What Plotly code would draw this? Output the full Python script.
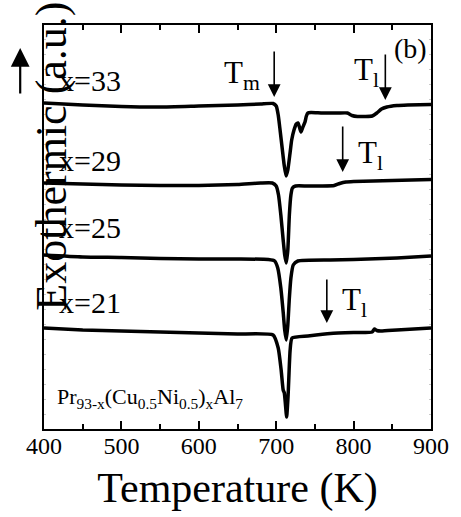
import plotly.graph_objects as go

# ---- data (heat flow in arbitrary units, curves offset vertically) ----
t33 = [400, 450, 500, 550, 600, 650, 680, 696, 700, 702.6, 705, 708, 710.3, 712.8, 715, 717.9, 720, 723, 726,
       728.2, 730, 732, 734, 737.2, 739, 741, 745, 760, 780, 792, 798, 805, 815, 824, 830, 836, 843, 856, 870, 900]
y33 = [326, 324, 322.5, 322, 323, 324, 325, 325.5, 323, 314, 299, 279, 264, 253, 259, 276, 289, 299, 305,
       306, 302, 297, 301, 307, 313, 316, 316.5, 316, 316, 316, 313.5, 312.5, 312.5, 313, 316, 320, 322, 323.5, 324, 324.5]

t29 = [400, 450, 500, 550, 600, 650, 680, 695, 700, 703, 706, 709, 711, 713, 715, 717, 719, 721, 725, 740,
       760, 775, 782, 790, 800, 850, 900]
y29 = [246, 245, 244, 243.5, 243.5, 244.5, 246, 246, 243, 234, 214, 189, 174, 166, 179, 214, 234, 241, 243, 243,
       243, 243.5, 245.5, 247, 247.5, 248.5, 249.5]

t25 = [400, 450, 500, 550, 600, 650, 690, 698, 702, 706, 709, 711, 713, 715, 717, 719, 722, 728, 770, 800, 856, 900]
y25 = [174, 172, 171.5, 170.5, 170, 170, 169.5, 168, 161, 141, 117, 99, 89, 104, 131, 151, 164, 168, 169, 169.5, 171, 173]

t21 = [400, 450, 500, 550, 600, 650, 696, 702.6, 706.4, 709, 710.5, 712, 713.5, 715.4, 718, 720.5, 741, 770,
       800, 824, 827, 830, 835, 856, 900]
y21 = [101, 99, 98, 97, 96, 95, 94, 81, 59, 39, 36, 24, 12, 34, 79, 91, 93, 95.5,
       96.5, 97, 100, 98.5, 98, 99, 101]

series_labels = ["x=33", "x=29", "x=25", "x=21"]
label_y = [349, 269, 202, 127]

x_ticks = [400, 500, 600, 700, 800, 900]

# arrows: (temperature, head y, tail y, label, label x, label y, anchor)
arrow_T = [697.4, 841, 785.9, 765.4]
arrow_head = [332, 329, 257, 106]
arrow_tail = [379, 376, 304, 151]
arrow_text = ["T<sub>m</sub>", "T<sub>l</sub>", "T<sub>l</sub>", "T<sub>l</sub>"]
text_T = [682, 836, 802.6, 782]
text_y = [354, 357, 274, 127]
text_anchor = ["right", "right", "left", "left"]

FONT = "Times New Roman, Liberation Serif, Times, serif"

fig = go.Figure()
for tt, yy in [(t33, y33), (t29, y29), (t25, y25), (t21, y21)]:
    fig.add_trace(go.Scatter(x=tt, y=yy, mode="lines",
                             line=dict(color="black", width=3.5, shape="spline", smoothing=0.5),
                             showlegend=False, hoverinfo="skip"))

ann = []
for lab, ly in zip(series_labels, label_y):
    ann.append(dict(x=416.7, y=ly, xref="x", yref="y", text=lab, showarrow=False,
                    xanchor="left", yanchor="middle", font=dict(family=FONT, size=30, color="black")))

for T, h, tl, tx, txT, ty, anc in zip(arrow_T, arrow_head, arrow_tail, arrow_text, text_T, text_y, text_anchor):
    ann.append(dict(x=T, y=h, ax=T, ay=tl, xref="x", yref="y", axref="x", ayref="y", text="",
                    showarrow=True, arrowhead=2, arrowsize=1.6, arrowwidth=1.6, arrowcolor="black"))
    ann.append(dict(x=txT, y=ty, xref="x", yref="y", text=tx, showarrow=False,
                    xanchor=anc, yanchor="middle", font=dict(family=FONT, size=31, color="black")))

ann.append(dict(x=897.4, y=381, xref="x", yref="y", text="(b)", showarrow=False,
                xanchor="right", yanchor="middle", font=dict(family=FONT, size=28, color="black")))
ann.append(dict(x=414, y=31, xref="x", yref="y",
                text="Pr<sub>93-x</sub>(Cu<sub>0.5</sub>Ni<sub>0.5</sub>)<sub>x</sub>Al<sub>7</sub>",
                showarrow=False, xanchor="left", yanchor="middle",
                font=dict(family=FONT, size=22, color="black")))
# y-axis title overlapping the frame
ann.append(dict(x=0.02, y=0.676, xref="paper", yref="paper", text="Exothermic (a.u.)", textangle=-90,
                showarrow=False, xanchor="center", yanchor="middle",
                font=dict(family=FONT, size=44, color="black")))
# up arrow
ann.append(dict(x=-0.0615, y=0.943, xref="paper", yref="paper", ax=0, ay=47, axref="pixel", ayref="pixel",
                text="", showarrow=True, arrowhead=2, arrowsize=1.7, arrowwidth=2.2, arrowcolor="black"))

fig.update_layout(
    width=461, height=517,
    margin=dict(l=44, r=27, t=25, b=88),
    paper_bgcolor="white", plot_bgcolor="white",
    font=dict(family=FONT, color="black"),
    annotations=ann,
    xaxis=dict(range=[400, 900], tickvals=x_ticks, ticks="inside", ticklen=8, tickwidth=1.5,
               tickcolor="black", mirror="ticks", showline=True, linecolor="black", linewidth=1.5,
               showgrid=False, zeroline=False, tickfont=dict(family=FONT, size=24, color="black"),
               ticklabelstandoff=-6,
               minor=dict(dtick=50, ticks="inside", ticklen=5, tickwidth=1.5, tickcolor="black"),
               title=dict(text="Temperature (K)", font=dict(family=FONT, size=42, color="black"), standoff=15)),
    yaxis=dict(range=[0, 404], showticklabels=False, ticks="inside", ticklen=2, tickwidth=1,
               tickcolor="#c8c8c8", dtick=15, mirror="ticks", showline=True, linecolor="black",
               linewidth=1.5, showgrid=False, zeroline=False),
)

fig.write_html("out.html")
